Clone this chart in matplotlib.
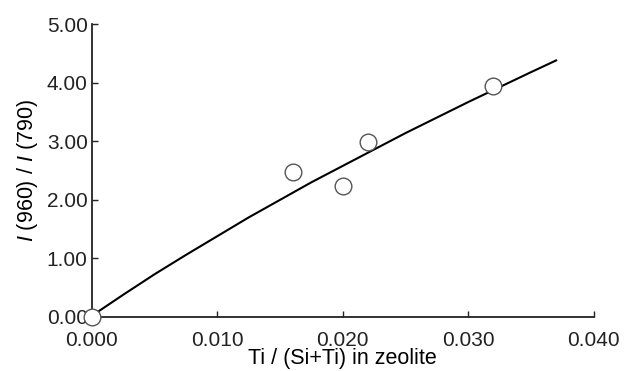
import matplotlib
matplotlib.use("Agg")
import matplotlib.pyplot as plt

# measured points
ti_frac = [0.000, 0.016, 0.020, 0.022, 0.032]
ratio = [0.00, 2.47, 2.24, 2.99, 3.94]

# fitted curve
curve_x = [0.0, 0.0025, 0.005, 0.0075, 0.010, 0.0125, 0.015, 0.0175, 0.020,
           0.025, 0.030, 0.035, 0.037]
curve_y = [0.02, 0.38, 0.73, 1.06, 1.38, 1.70, 2.00, 2.30, 2.58,
           3.14, 3.67, 4.18, 4.38]

x_ticks = [0.000, 0.010, 0.020, 0.030, 0.040]
y_ticks = [0.0, 1.0, 2.0, 3.0, 4.0, 5.0]

plt.rcParams['font.family'] = ['Liberation Sans', 'DejaVu Sans']
plt.rcParams['mathtext.fontset'] = 'custom'
plt.rcParams['mathtext.it'] = 'Liberation Sans:italic'
plt.rcParams['mathtext.rm'] = 'Liberation Sans'

fig = plt.figure(figsize=(6.25, 3.71), dpi=100)
ax = fig.add_axes([0.147, 0.1456, 0.803, 0.7894])

ax.plot(curve_x, curve_y, color='black', lw=1.5, zorder=2)
ax.plot(ti_frac, ratio, 'o', ms=12, mfc='white', mec='#555555', mew=1.0,
        zorder=3, clip_on=False)

ax.set_xlim(0, 0.040)
ax.set_ylim(0, 5.0)
ax.set_xticks(x_ticks)
ax.set_yticks(y_ticks)
ax.set_xticklabels([f"{v:.3f}" for v in x_ticks])
ax.set_yticklabels([f"{v:.2f}" for v in y_ticks])

for s in ['top', 'right']:
    ax.spines[s].set_visible(False)
for s in ['left', 'bottom']:
    ax.spines[s].set_linewidth(1.3)
    ax.spines[s].set_color('#222222')

ax.tick_params(axis='both', direction='in', length=4, width=1, labelsize=15,
               colors='#222222')
ax.tick_params(axis='x', pad=10)
ax.tick_params(axis='y', pad=3)

ax.set_xlabel('Ti / (Si+Ti) in zeolite', fontsize=15.5, labelpad=-1)
ax.set_ylabel(r'$\it{I}$ (960) / $\it{I}$ (790)', fontsize=15.5, labelpad=5)

fig.savefig('out.png', dpi=100)
